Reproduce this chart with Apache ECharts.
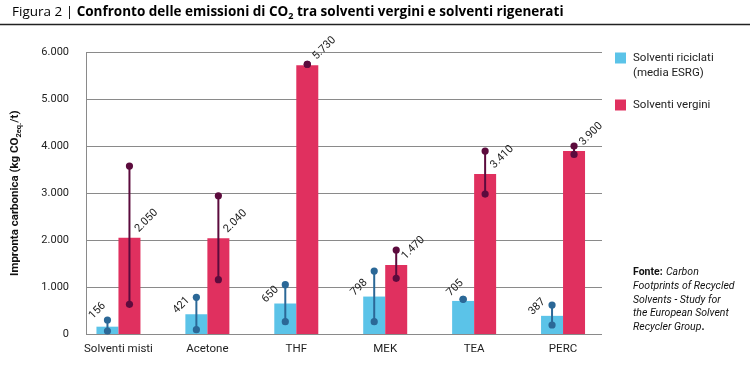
<!DOCTYPE html>
<html><head><meta charset="utf-8">
<script src="https://cdn.jsdelivr.net/npm/echarts@6/dist/echarts.min.js"></script>
<style>html,body{margin:0;padding:0;background:#fff}#c{width:750px;height:388px}</style>
</head><body><div id="c"></div>
<script>
var categories = ['Solventi misti', 'Acetone', 'THF', 'MEK', 'TEA', 'PERC'];
var recycled = [156, 421, 650, 798, 705, 387];
var virgin = [2050, 2040, 5730, 1470, 3410, 3900];
var recycledLow = [64, 92, 263, 263, 739, 192];
var recycledHigh = [298, 782, 1051, 1342, 739, 618];
var virginLow = [633, 1157, 5750, 1186, 2983, 3828];
var virginHigh = [3579, 2947, 5750, 1790, 3899, 4005];
var yTicks = [0, 1000, 2000, 3000, 4000, 5000, 6000];
var seriesNames = ['Solventi riciclati (media ESRG)', 'Solventi vergini'];

var FONT = 'Roboto, "Noto Sans", sans-serif';
var TFONT = '"Open Sans", Roboto, sans-serif';
var C_BLUE = '#5bc3e8', C_RED = '#e0305f', C_EB_BLUE = '#2b6897', C_EB_RED = '#5c0b3d';
function fmt(v) { return String(v).replace(/\B(?=(\d{3})+(?!\d))/g, '.'); }

var chart = echarts.init(document.getElementById('c'), null, {renderer: 'canvas'});

// label placement relative to the bar's outer top corner (style only)
var blueLabelShift = {0: [1, -16], 4: [3, -13]};

function errBar(values, lows, highs, side, color) {
  return {
    type: 'custom', xAxisIndex: 1, yAxisIndex: 1, z: 5,
    data: categories.map(function (c, i) { return [i, lows[i], highs[i], values[i]]; }),
    renderItem: function (params, api) {
      var i = api.value(0);
      var p1 = api.coord([i, api.value(1)]);
      var p2 = api.coord([i, api.value(2)]);
      var pv = api.coord([i, api.value(3)]);
      var x = p1[0] + side * 11;
      var edge = p1[0] + side * 22;
      var sh = side < 0 ? (blueLabelShift[params.dataIndex] || [-4, -9]) : [6, -17];
      return {type: 'group', children: [
        {type: 'line', shape: {x1: x, y1: p1[1], x2: x, y2: p2[1]}, style: {stroke: color, lineWidth: 2}},
        {type: 'circle', shape: {cx: x, cy: p1[1], r: 3.6}, style: {fill: color}},
        {type: 'circle', shape: {cx: x, cy: p2[1], r: 3.6}, style: {fill: color}},
        {type: 'text', x: edge + sh[0], y: pv[1] + sh[1], rotation: Math.PI / 4,
         style: {text: fmt(api.value(3)), align: 'center', verticalAlign: 'middle',
                 fontSize: 11, fontFamily: FONT, fill: '#222'}}
      ]};
    }
  };
}

var option = {
  animation: false,
  textStyle: {fontFamily: FONT},
  grid: [
    {left: 86, top: 52.5, width: 516, height: 281.5},
    {left: 74, top: 52.5, width: 533.5, height: 281.5}
  ],
  xAxis: [
    {gridIndex: 0, type: 'category', data: categories, show: false},
    {gridIndex: 1, type: 'category', data: categories,
     axisLine: {show: false}, axisTick: {show: false},
     axisLabel: {interval: 0, color: '#222', fontSize: 11.5, margin: 9, fontFamily: FONT}}
  ],
  yAxis: [
    {gridIndex: 0, type: 'value', min: 0, max: 6000, interval: 1000,
     axisLine: {show: true, lineStyle: {color: '#8a8a8a', width: 1}},
     axisTick: {show: false},
     splitLine: {lineStyle: {color: '#8a8a8a', width: 1}},
     axisLabel: {color: '#222', fontSize: 11, margin: 17, fontFamily: FONT,
       formatter: function (v) { return fmt(v); }},
     name: '{b|Impronta carbonica (kg CO}{s|2eq.}{b|/t)}',
     nameLocation: 'middle', nameGap: 63,
     nameTextStyle: {rich: {
       b: {fontSize: 11.5, fontWeight: 'bold', color: '#111', fontFamily: FONT, lineHeight: 16, verticalAlign: 'middle'},
       s: {fontSize: 7.5, fontWeight: 'bold', color: '#111', fontFamily: FONT, lineHeight: 16, verticalAlign: 'bottom'}
     }}},
    {gridIndex: 1, type: 'value', min: 0, max: 6000, interval: 1000, show: false}
  ],
  series: [
    {name: seriesNames[0], type: 'bar', xAxisIndex: 1, yAxisIndex: 1, barWidth: 22, barGap: '0%',
     itemStyle: {color: C_BLUE}, data: recycled},
    {name: seriesNames[1], type: 'bar', xAxisIndex: 1, yAxisIndex: 1, barWidth: 22, barGap: '0%',
     itemStyle: {color: C_RED}, data: virgin},
    errBar(recycled, recycledLow, recycledHigh, -1, C_EB_BLUE),
    errBar(virgin, virginLow, virginHigh, 1, C_EB_RED)
  ],
  graphic: [
    {type: 'text', left: 12, top: 5, style: {
      text: '{l|Figura 2 }{l||}{b| Confronto delle emissioni di CO}{s|2}{b| tra solventi vergini e solventi rigenerati}',
      rich: {
        l: {fontSize: 13.5, fontFamily: TFONT, color: '#111', lineHeight: 18, verticalAlign: 'middle'},
        b: {fontSize: 13.5, fontWeight: 'bold', fontFamily: TFONT, color: '#111', lineHeight: 18, verticalAlign: 'middle'},
        s: {fontSize: 9, fontWeight: 'bold', fontFamily: TFONT, color: '#111', lineHeight: 18, verticalAlign: 'bottom'}
      }}},
    {type: 'line', shape: {x1: 0, y1: 24.5, x2: 750, y2: 24.5}, style: {stroke: '#222', lineWidth: 1.5}},
    {type: 'rect', shape: {x: 615, y: 52.5, width: 11, height: 11}, style: {fill: C_BLUE}},
    {type: 'text', x: 633, y: 51, style: {text: 'Solventi riciclati\n(media ESRG)', fontSize: 11.5, lineHeight: 15, fill: '#222', fontFamily: FONT}},
    {type: 'rect', shape: {x: 615, y: 99.5, width: 11, height: 11}, style: {fill: C_RED}},
    {type: 'text', x: 633, y: 98, style: {text: 'Solventi vergini', fontSize: 11.5, lineHeight: 15, fill: '#222', fontFamily: FONT}},
    {type: 'text', x: 633, y: 266, style: {
      text: '{b|Fonte:} {i|Carbon}\n{i|Footprints of Recycled}\n{i|Solvents - Study for}\n{i|the European Solvent}\n{i|Recycler Group}{b|.}',
      rich: {
        b: {fontSize: 10.5, fontWeight: 'bold', fontFamily: FONT, fill: '#111', lineHeight: 13.6},
        i: {fontSize: 10.5, fontStyle: 'italic', fontFamily: FONT, fill: '#111', lineHeight: 13.6}
      }}}
  ]
};
chart.setOption(option);
</script>
</body></html>
